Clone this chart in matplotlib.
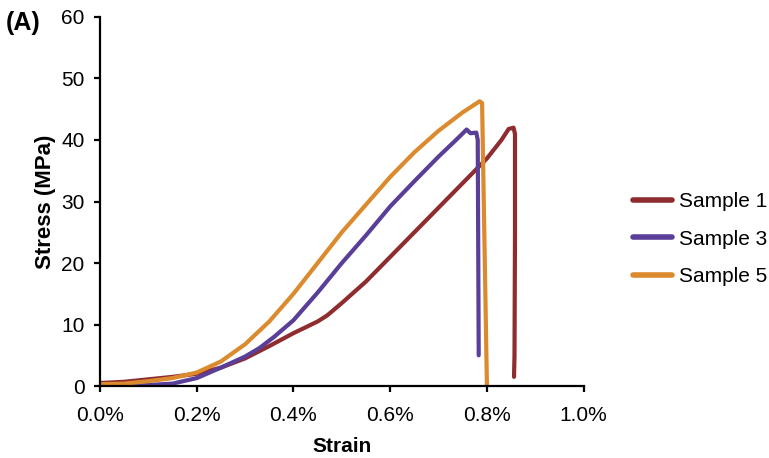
import matplotlib
matplotlib.use("Agg")
import matplotlib.pyplot as plt
from matplotlib.ticker import FuncFormatter

plt.rcParams['font.family'] = ['Liberation Sans', 'DejaVu Sans']

# strain in %, stress in MPa
strain1 = [0.0, 0.05, 0.1, 0.15, 0.2, 0.25, 0.3, 0.35, 0.4, 0.45, 0.47, 0.5, 0.55,
           0.6, 0.65, 0.7, 0.75, 0.8, 0.83, 0.845, 0.855, 0.858, 0.858, 0.857, 0.856]
stress1 = [0.5, 0.7, 1.1, 1.5, 2.0, 3.0, 4.5, 6.5, 8.6, 10.5, 11.5, 13.5, 17,
           21, 25, 29, 33, 37, 40, 41.8, 42.0, 41, 25, 5, 1.5]

strain3 = [0.0, 0.08, 0.15, 0.2, 0.25, 0.3, 0.33, 0.36, 0.4, 0.45, 0.5, 0.55, 0.6,
           0.65, 0.7, 0.74, 0.758, 0.766, 0.778, 0.781, 0.783]
stress3 = [0.2, 0.1, 0.4, 1.3, 3.0, 4.8, 6.2, 8.0, 10.7, 15.2, 20, 24.5, 29.2,
           33.3, 37.3, 40.3, 41.7, 41.1, 41.2, 40, 5]

strain5 = [0.0, 0.05, 0.1, 0.15, 0.2, 0.25, 0.3, 0.35, 0.4, 0.45, 0.5, 0.55, 0.6,
           0.65, 0.7, 0.75, 0.785, 0.79, 0.80]
stress5 = [0.3, 0.4, 0.8, 1.3, 2.2, 4.0, 6.8, 10.5, 15, 20, 25, 29.5, 34,
           38, 41.5, 44.5, 46.3, 46, 0]

labels = ['Sample 1', 'Sample 3', 'Sample 5']
colors = ['#8e2c2f', '#5a3f98', '#db8a2e']

fig = plt.figure(figsize=(7.69, 4.58), dpi=100)
ax = fig.add_axes([0.130, 0.157, 0.629, 0.806])

for x, y, lab, c in zip([strain1, strain3, strain5], [stress1, stress3, stress5], labels, colors):
    ax.plot(x, y, color=c, lw=3.0, label=lab, solid_joinstyle='round', solid_capstyle='round')

ax.set_xlim(0, 1.0)
ax.set_ylim(0, 60)
ax.set_xticks([0, 0.2, 0.4, 0.6, 0.8, 1.0])
ax.set_yticks([0, 10, 20, 30, 40, 50, 60])
ax.xaxis.set_major_formatter(FuncFormatter(lambda v, p: f"{v:.1f}%"))
for s in ['top', 'right']:
    ax.spines[s].set_visible(False)
for s in ['left', 'bottom']:
    ax.spines[s].set_linewidth(1.6)
ax.tick_params(direction='out', length=4, width=1.6, labelsize=15)
ax.tick_params(axis='x', pad=10)
ax.tick_params(axis='y', pad=7)

ax.set_xlabel('Strain', fontsize=15, fontweight='bold', labelpad=9)
ax.set_ylabel('Stress (MPa)', fontsize=16, fontweight='bold', labelpad=4)
fig.text(0.008, 0.95, '(A)', fontsize=18, fontweight='bold', va='center')

leg = fig.legend(loc='center left', bbox_to_anchor=(0.823, 0.478), frameon=False, fontsize=15,
                 handlelength=1.9, handletextpad=0.3, labelspacing=0.9,
                 borderpad=0, borderaxespad=0)
for h in leg.get_lines():
    h.set_linewidth(4)

fig.savefig('out.png', dpi=100)
